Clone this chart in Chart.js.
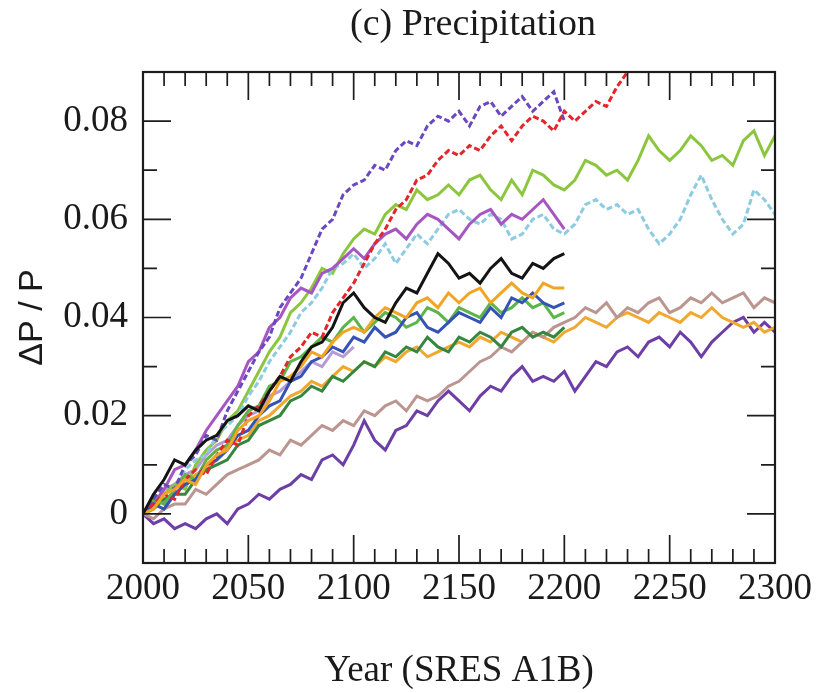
<!DOCTYPE html>
<html>
<head>
<meta charset="utf-8">
<script src="https://cdn.jsdelivr.net/npm/chart.js@4.4.0/dist/chart.umd.min.js"></script>
<style>
  html, body { margin: 0; padding: 0; background: #fff; }
  #chart { display: block; }
</style>
</head>
<body>
<canvas id="chart" width="816" height="693"></canvas>
<script>
// years every 5 yr, 2000 .. 2300
const years = Array.from({ length: 61 }, (_, i) => 2000 + 5 * i);
const xLabels = [2000, 2050, 2100, 2150, 2200, 2250, 2300];
const yLabels = [0, 0.02, 0.04, 0.06, 0.08];

// dP/P, one value per 5 years
const red = [
  0.000, 0.002, 0.004, 0.003, 0.007, 0.009, 0.008, 0.012, 0.015, 0.014,
  0.020, 0.022, 0.025, 0.028, 0.032, 0.034, 0.037, 0.036, 0.041, 0.044,
  0.047, 0.051, 0.055, 0.058, 0.062, 0.064, 0.068, 0.069, 0.072, 0.074,
  0.073, 0.075, 0.074, 0.077, 0.079, 0.076, 0.079, 0.081, 0.080, 0.078,
  0.082, 0.080, 0.082, 0.084, 0.083, 0.087, 0.090, 0.094];
const violet = [
  0.000, 0.003, 0.006, 0.005, 0.010, 0.012, 0.016, 0.015, 0.021, 0.025,
  0.029, 0.033, 0.036, 0.042, 0.045, 0.048, 0.053, 0.058, 0.060, 0.065,
  0.067, 0.068, 0.071, 0.070, 0.074, 0.076, 0.075, 0.079, 0.081, 0.080,
  0.082, 0.079, 0.083, 0.084, 0.081, 0.083, 0.085, 0.082, 0.084, 0.086,
  0.080];
const yellowGreen = [
  0.000, 0.001, 0.004, 0.006, 0.005, 0.010, 0.013, 0.015, 0.019, 0.021,
  0.025, 0.029, 0.033, 0.036, 0.041, 0.043, 0.046, 0.050, 0.049, 0.053,
  0.056, 0.058, 0.057, 0.061, 0.063, 0.062, 0.066, 0.064, 0.065, 0.067,
  0.065, 0.068, 0.069, 0.066, 0.064, 0.068, 0.065, 0.070, 0.069, 0.067,
  0.066, 0.068, 0.072, 0.071, 0.069, 0.070, 0.068, 0.072, 0.077, 0.074,
  0.072, 0.074, 0.077, 0.075, 0.072, 0.073, 0.071, 0.076, 0.078, 0.073,
  0.077];
const lightBlue = [
  0.000, 0.003, 0.002, 0.005, 0.009, 0.011, 0.012, 0.016, 0.018, 0.020,
  0.024, 0.027, 0.031, 0.034, 0.037, 0.041, 0.043, 0.046, 0.050, 0.051,
  0.053, 0.050, 0.052, 0.055, 0.051, 0.054, 0.057, 0.055, 0.058, 0.061,
  0.062, 0.060, 0.059, 0.061, 0.060, 0.056, 0.057, 0.060, 0.061, 0.058,
  0.057, 0.059, 0.063, 0.064, 0.062, 0.063, 0.061, 0.062, 0.058, 0.055,
  0.057, 0.060, 0.065, 0.069, 0.064, 0.060, 0.057, 0.059, 0.066, 0.064,
  0.061];
const magenta = [
  0.000, 0.002, 0.005, 0.009, 0.010, 0.013, 0.017, 0.020, 0.023, 0.026,
  0.031, 0.033, 0.038, 0.040, 0.044, 0.046, 0.045, 0.049, 0.050, 0.052,
  0.054, 0.052, 0.055, 0.057, 0.058, 0.056, 0.059, 0.061, 0.060, 0.058,
  0.056, 0.059, 0.061, 0.062, 0.059, 0.061, 0.060, 0.062, 0.064, 0.061,
  0.058];
const black = [
  0.000, 0.004, 0.007, 0.011, 0.010, 0.013, 0.015, 0.016, 0.019, 0.020,
  0.022, 0.021, 0.025, 0.028, 0.027, 0.031, 0.034, 0.035, 0.038, 0.043,
  0.045, 0.042, 0.040, 0.039, 0.043, 0.046, 0.045, 0.049, 0.053, 0.051,
  0.048, 0.049, 0.047, 0.050, 0.052, 0.049, 0.048, 0.051, 0.050, 0.052,
  0.053];
const orange = [
  0.000, 0.001, 0.004, 0.005, 0.007, 0.006, 0.010, 0.012, 0.013, 0.017,
  0.019, 0.020, 0.023, 0.027, 0.028, 0.030, 0.033, 0.032, 0.035, 0.037,
  0.038, 0.037, 0.040, 0.042, 0.041, 0.040, 0.043, 0.044, 0.042, 0.045,
  0.043, 0.045, 0.046, 0.043, 0.045, 0.047, 0.045, 0.044, 0.047, 0.046,
  0.046];
const blue = [
  0.000, 0.002, 0.001, 0.004, 0.006, 0.007, 0.010, 0.011, 0.013, 0.016,
  0.017, 0.020, 0.022, 0.023, 0.027, 0.028, 0.031, 0.032, 0.034, 0.033,
  0.036, 0.035, 0.038, 0.036, 0.037, 0.040, 0.041, 0.038, 0.037, 0.039,
  0.041, 0.040, 0.039, 0.042, 0.040, 0.044, 0.043, 0.045, 0.043, 0.042,
  0.043];
const green = [
  0.000, 0.003, 0.002, 0.005, 0.008, 0.007, 0.011, 0.013, 0.014, 0.018,
  0.021, 0.022, 0.026, 0.027, 0.031, 0.032, 0.034, 0.036, 0.035, 0.038,
  0.040, 0.037, 0.039, 0.041, 0.040, 0.038, 0.039, 0.042, 0.041, 0.039,
  0.042, 0.041, 0.040, 0.043, 0.041, 0.042, 0.044, 0.042, 0.043, 0.040,
  0.041];
const darkGreen = [
  0.000, 0.001, 0.003, 0.004, 0.004, 0.007, 0.009, 0.010, 0.011, 0.014,
  0.015, 0.018, 0.019, 0.020, 0.023, 0.024, 0.026, 0.025, 0.028, 0.027,
  0.029, 0.031, 0.030, 0.033, 0.032, 0.034, 0.033, 0.036, 0.034, 0.033,
  0.036, 0.035, 0.037, 0.036, 0.034, 0.037, 0.038, 0.036, 0.037, 0.036,
  0.038];
const tan = [
  0.000, -0.001, 0.001, 0.002, 0.002, 0.005, 0.004, 0.006, 0.008, 0.009,
  0.010, 0.011, 0.013, 0.012, 0.015, 0.014, 0.016, 0.018, 0.017, 0.019,
  0.018, 0.021, 0.020, 0.022, 0.023, 0.021, 0.024, 0.023, 0.024, 0.026,
  0.027, 0.029, 0.031, 0.032, 0.034, 0.033, 0.035, 0.037, 0.036, 0.038,
  0.039, 0.040, 0.042, 0.041, 0.043, 0.040, 0.042, 0.041, 0.043, 0.044,
  0.041, 0.042, 0.044, 0.043, 0.045, 0.043, 0.044, 0.045, 0.042, 0.044,
  0.043];
const orange2 = [
  0.000, 0.002, 0.003, 0.004, 0.006, 0.008, 0.009, 0.011, 0.014, 0.015,
  0.016, 0.019, 0.020, 0.022, 0.024, 0.025, 0.027, 0.026, 0.028, 0.030,
  0.029, 0.031, 0.030, 0.032, 0.031, 0.033, 0.034, 0.032, 0.033, 0.034,
  0.035, 0.034, 0.036, 0.035, 0.037, 0.036, 0.035, 0.037, 0.036, 0.035,
  0.037, 0.038, 0.040, 0.039, 0.038, 0.040, 0.041, 0.040, 0.039, 0.041,
  0.040, 0.039, 0.041, 0.040, 0.042, 0.040, 0.039, 0.038, 0.039, 0.037,
  0.038];
const purpleLow = [
  0.000, -0.002, -0.001, -0.003, -0.002, -0.003, -0.001, 0.000, -0.002, 0.001,
  0.002, 0.004, 0.003, 0.005, 0.006, 0.008, 0.007, 0.011, 0.012, 0.010,
  0.014, 0.019, 0.015, 0.013, 0.017, 0.018, 0.021, 0.020, 0.023, 0.025,
  0.023, 0.021, 0.024, 0.026, 0.025, 0.028, 0.030, 0.027, 0.028, 0.027,
  0.029, 0.025, 0.028, 0.031, 0.030, 0.033, 0.034, 0.032, 0.035, 0.036,
  0.034, 0.037, 0.035, 0.032, 0.035, 0.037, 0.039, 0.040, 0.037, 0.039,
  0.037];
const lavender = [
  0.000, 0.002, 0.005, 0.006, 0.008, 0.009, 0.012, 0.014, 0.015, 0.018,
  0.020, 0.021, 0.024, 0.025, 0.027, 0.029, 0.031, 0.030, 0.033, 0.032,
  0.034];

// first in list is drawn on top
const series = [
  { data: black, color: '#141414', dash: [] },
  { data: orange, color: '#f2a524', dash: [] },
  { data: red, color: '#e2262b', dash: [6, 3] },
  { data: violet, color: '#6a48c2', dash: [6, 3] },
  { data: blue, color: '#3552b5', dash: [] },
  { data: green, color: '#5cb548', dash: [] },
  { data: darkGreen, color: '#35873f', dash: [] },
  { data: magenta, color: '#a656c2', dash: [] },
  { data: lightBlue, color: '#8ccbe0', dash: [6, 3] },
  { data: yellowGreen, color: '#8cc63f', dash: [] },
  { data: tan, color: '#bb9590', dash: [] },
  { data: orange2, color: '#f0a830', dash: [] },
  { data: purpleLow, color: '#6d3fa6', dash: [] },
  { data: lavender, color: '#b79bd6', dash: [] }
];

const datasets = series.map(s => ({
  data: s.data.map((v, i) => ({ x: years[i], y: v })),
  borderColor: s.color,
  borderDash: s.dash,
  borderWidth: 3,
  pointRadius: 0,
  tension: 0,
  fill: false
}));

// frame with inward ticks on all four sides, plus the title
const frameTicks = {
  id: 'frameTicks',
  afterDatasetsDraw(chart) {
    const { ctx, chartArea: a, scales: { x, y } } = chart;
    ctx.save();
    ctx.strokeStyle = '#1c1c1c';
    ctx.lineWidth = 1.7;
    ctx.beginPath();
    for (let yr = 2010; yr < 2300; yr += 10) {
      const px = x.getPixelForValue(yr);
      const len = yr % 50 === 0 ? 28 : 14;
      ctx.moveTo(px, a.bottom); ctx.lineTo(px, a.bottom - len);
      ctx.moveTo(px, a.top); ctx.lineTo(px, a.top + len);
    }
    for (let k = 0; k <= 8; k++) {
      const py = y.getPixelForValue(k / 100);
      const len = k % 2 === 0 ? 28 : 14;
      ctx.moveTo(a.left, py); ctx.lineTo(a.left + len, py);
      ctx.moveTo(a.right, py); ctx.lineTo(a.right - len, py);
    }
    ctx.stroke();
    ctx.lineWidth = 2.2;
    ctx.strokeRect(a.left, a.top, a.right - a.left, a.bottom - a.top);

    ctx.fillStyle = '#1a1a1a';
    ctx.font = '38px "Liberation Serif"';
    ctx.textAlign = 'center';
    ctx.textBaseline = 'alphabetic';
    ctx.fillText('(c) Precipitation', 473, 35);
    ctx.restore();
  }
};

new Chart(document.getElementById('chart'), {
  type: 'line',
  data: { datasets },
  options: {
    responsive: false,
    animation: false,
    layout: { padding: { top: 72, right: 41, bottom: 0, left: 0 } },
    plugins: { legend: { display: false }, tooltip: { enabled: false }, title: { display: false } },
    scales: {
      x: {
        type: 'linear',
        min: 2000,
        max: 2300,
        afterFit: s => { s.height = 130; },
        afterBuildTicks: s => { s.ticks = xLabels.map(v => ({ value: v })); },
        grid: { display: false, drawTicks: false },
        border: { display: false },
        ticks: {
          autoSkip: false,
          maxRotation: 0,
          padding: 4,
          color: '#1a1a1a',
          font: { family: 'Liberation Serif', size: 37 },
          callback: v => String(v)
        },
        title: {
          display: true,
          text: 'Year (SRES A1B)',
          color: '#1a1a1a',
          font: { family: 'Liberation Serif', size: 37 },
          padding: { top: 0, bottom: 0 }
        }
      },
      y: {
        min: -0.01,
        max: 0.09,
        afterFit: s => { s.width = 143; },
        afterBuildTicks: s => { s.ticks = yLabels.map(v => ({ value: v })); },
        grid: { display: false, drawTicks: false },
        border: { display: false },
        ticks: {
          padding: 15,
          color: '#1a1a1a',
          font: { family: 'Liberation Serif', size: 37 },
          callback: v => v === 0 ? '0' : v.toFixed(2)
        },
        title: {
          display: true,
          text: 'ΔP / P',
          color: '#1a1a1a',
          font: { family: 'Liberation Sans', size: 34 },
          padding: { top: 12, bottom: 0 }
        }
      }
    }
  },
  plugins: [frameTicks]
});
</script>
</body>
</html>
